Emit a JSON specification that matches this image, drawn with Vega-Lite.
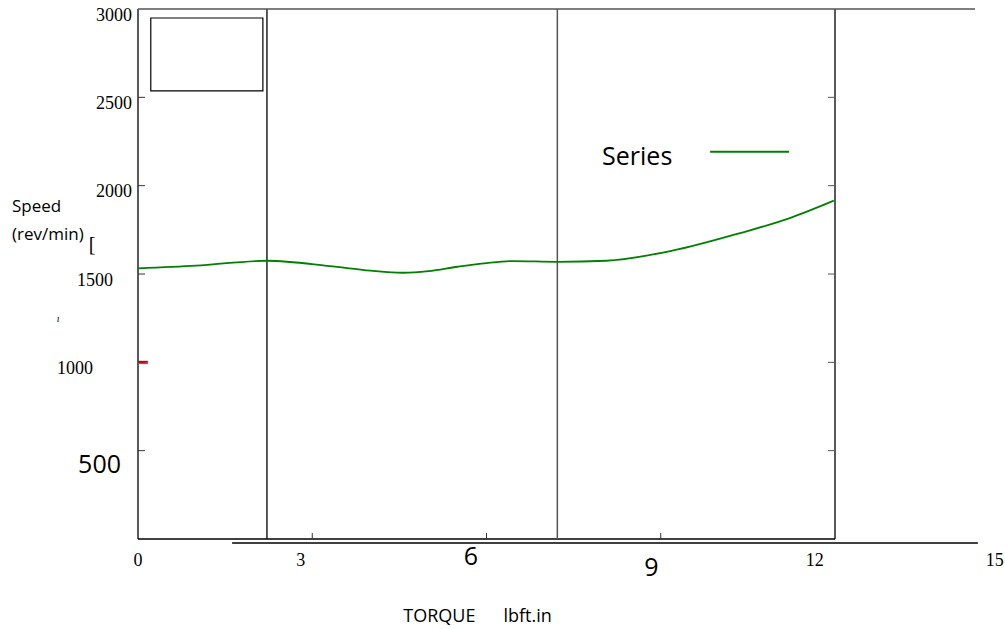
{
  "$schema": "https://vega.github.io/schema/vega-lite/v6.json",
  "width": 697,
  "height": 530,
  "autosize": {"type": "none"},
  "padding": {"left": 138, "top": 9, "right": 170, "bottom": 90},
  "background": "white",
  "config": {"view": {"stroke": null}},
  "datasets": {
    "curve": [
      {"t": 0, "s": 1532}, {"t": 1.0, "s": 1547}, {"t": 2.22, "s": 1575}, {"t": 3.3, "s": 1545},
      {"t": 4.0, "s": 1519}, {"t": 4.56, "s": 1507}, {"t": 5.0, "s": 1516}, {"t": 5.5, "s": 1541},
      {"t": 6.0, "s": 1562}, {"t": 6.45, "s": 1573}, {"t": 7.22, "s": 1569}, {"t": 8.06, "s": 1575},
      {"t": 9.2, "s": 1632}, {"t": 10.35, "s": 1730}, {"t": 11.21, "s": 1815}, {"t": 11.98, "s": 1915}
    ],
    "frameBlack": [
      {"x": 1.62, "x2": 14.46, "y": -22.6, "y2": -22.6},
      {"x": 2.22, "x2": 2.22, "y": 0, "y2": 3000},
      {"x": 12, "x2": 12, "y": 0, "y2": 3000},
      {"x": 0, "x2": 0, "y": 0, "y2": 3000}
    ],
    "frameGray": [
      {"x": 0, "x2": 14.41, "y": 3000, "y2": 3000},
      {"x": 7.22, "x2": 7.22, "y": 0, "y2": 3000}
    ],
    "xDomain": [{"x": 0, "x2": 12, "y": 0}],
    "yTicks": [{"y": 500}, {"y": 1000}, {"y": 1500}, {"y": 2000}, {"y": 2500}],
    "xTicks": [{"x": 3}, {"x": 6}, {"x": 9}],
    "box": [{"x": 0.22, "x2": 2.15, "y": 2536, "y2": 2949}],
    "xLabelsSerif": [
      {"x": 0.0, "y": -152.8, "label": "0"},
      {"x": 2.8, "y": -152.8, "label": "3"},
      {"x": 11.65, "y": -152.8, "label": "12"},
      {"x": 14.75, "y": -152.8, "label": "15"}
    ],
    "xLabelsSans": [
      {"x": 5.73, "y": -147, "label": "6"},
      {"x": 8.84, "y": -209.4, "label": "9"}
    ],
    "yLabelsSerif": [
      {"x": -0.103, "y": 2932, "label": "3000"},
      {"x": -0.103, "y": 2432, "label": "2500"},
      {"x": -0.103, "y": 1936, "label": "2000"},
      {"x": -0.43, "y": 1432, "label": "1500"},
      {"x": -0.775, "y": 934, "label": "1000"}
    ],
    "yLabelsSans": [
      {"x": -0.293, "y": 374, "label": "500"}
    ],
    "titles": [
      {"x": 5.845, "y": -469.8, "label": "TORQUE\u00a0\u00a0\u00a0\u00a0\u00a0\u00a0lbft.in", "anchor": "middle"},
      {"x": -2.169, "y": 1851, "label": "Speed", "anchor": "start"},
      {"x": -2.169, "y": 1692, "label": "(rev/min)", "anchor": "start"}
    ],
    "legendText": [{"x": 7.99, "y": 2117, "label": "Series"}],
    "legendLine": [{"x": 9.85, "x2": 11.21, "y": 2192}],
    "redMark": [{"x": 0, "x2": 0.17, "y": 1003}],
    "blueMark": [{"x": 0, "x2": 0.17, "y": 994}],
    "bracket": [{"x": -0.79, "y": 1633, "label": "["}],
    "dot": [{"x": -1.375, "y": 1228, "label": "ı"}]
  },
  "layer": [
    {
      "data": {"name": "xDomain"},
      "mark": {"type": "rule", "color": "#404040", "strokeWidth": 2.2},
      "encoding": {
        "x": {"field": "x", "type": "quantitative", "scale": {"domain": [0, 12], "nice": false, "zero": false}, "axis": null},
        "x2": {"field": "x2"},
        "y": {"field": "y", "type": "quantitative", "scale": {"domain": [0, 3000], "nice": false}, "axis": null}
      }
    },
    {
      "data": {"name": "frameBlack"},
      "mark": {"type": "rule", "color": "#000000", "strokeWidth": 1.3},
      "encoding": {
        "x": {"field": "x", "type": "quantitative", "scale": {"domain": [0, 12], "nice": false, "zero": false}, "axis": null},
        "x2": {"field": "x2"},
        "y": {"field": "y", "type": "quantitative", "scale": {"domain": [0, 3000], "nice": false}, "axis": null},
        "y2": {"field": "y2"}
      }
    },
    {
      "data": {"name": "frameGray"},
      "mark": {"type": "rule", "color": "#555555", "strokeWidth": 1.5},
      "encoding": {
        "x": {"field": "x", "type": "quantitative", "scale": {"domain": [0, 12], "nice": false, "zero": false}, "axis": null},
        "x2": {"field": "x2"},
        "y": {"field": "y", "type": "quantitative", "scale": {"domain": [0, 3000], "nice": false}, "axis": null},
        "y2": {"field": "y2"}
      }
    },
    {
      "data": {"name": "yTicks"},
      "mark": {"type": "rule", "color": "#555555", "strokeWidth": 1},
      "encoding": {
        "x": {"datum": 11.88, "type": "quantitative", "scale": {"domain": [0, 12], "nice": false, "zero": false}, "axis": null},
        "x2": {"datum": 12},
        "y": {"field": "y", "type": "quantitative", "scale": {"domain": [0, 3000], "nice": false}, "axis": null}
      }
    },
    {
      "data": {"name": "yTicks"},
      "mark": {"type": "rule", "color": "#333333", "strokeWidth": 1},
      "encoding": {
        "x": {"datum": 0, "type": "quantitative", "scale": {"domain": [0, 12], "nice": false, "zero": false}, "axis": null},
        "x2": {"datum": 0.12},
        "y": {"field": "y", "type": "quantitative", "scale": {"domain": [0, 3000], "nice": false}, "axis": null}
      }
    },
    {
      "data": {"name": "xTicks"},
      "mark": {"type": "rule", "color": "#333333", "strokeWidth": 1},
      "encoding": {
        "x": {"field": "x", "type": "quantitative", "scale": {"domain": [0, 12], "nice": false, "zero": false}, "axis": null},
        "y": {"datum": 0, "type": "quantitative", "scale": {"domain": [0, 3000], "nice": false}, "axis": null},
        "y2": {"datum": 34}
      }
    },
    {
      "data": {"name": "box"},
      "mark": {"type": "rect", "fill": "transparent", "stroke": "#000000", "strokeWidth": 1.2},
      "encoding": {
        "x": {"field": "x", "type": "quantitative", "scale": {"domain": [0, 12], "nice": false, "zero": false}, "axis": null},
        "x2": {"field": "x2"},
        "y": {"field": "y", "type": "quantitative", "scale": {"domain": [0, 3000], "nice": false}, "axis": null},
        "y2": {"field": "y2"}
      }
    },
    {
      "data": {"name": "curve"},
      "mark": {"type": "line", "color": "#008000", "strokeWidth": 1.8, "interpolate": "monotone"},
      "encoding": {
        "x": {"field": "t", "type": "quantitative", "scale": {"domain": [0, 12], "nice": false, "zero": false}, "axis": null},
        "y": {"field": "s", "type": "quantitative", "scale": {"domain": [0, 3000], "nice": false}, "axis": null}
      }
    },
    {
      "data": {"name": "legendLine"},
      "mark": {"type": "rule", "color": "#008000", "strokeWidth": 2},
      "encoding": {
        "x": {"field": "x", "type": "quantitative", "scale": {"domain": [0, 12], "nice": false, "zero": false}, "axis": null},
        "x2": {"field": "x2"},
        "y": {"field": "y", "type": "quantitative", "scale": {"domain": [0, 3000], "nice": false}, "axis": null}
      }
    },
    {
      "data": {"name": "blueMark"},
      "mark": {"type": "rule", "color": "#4472c4", "strokeWidth": 1.5},
      "encoding": {
        "x": {"field": "x", "type": "quantitative", "scale": {"domain": [0, 12], "nice": false, "zero": false}, "axis": null},
        "x2": {"field": "x2"},
        "y": {"field": "y", "type": "quantitative", "scale": {"domain": [0, 3000], "nice": false}, "axis": null}
      }
    },
    {
      "data": {"name": "redMark"},
      "mark": {"type": "rule", "color": "#d00000", "strokeWidth": 2},
      "encoding": {
        "x": {"field": "x", "type": "quantitative", "scale": {"domain": [0, 12], "nice": false, "zero": false}, "axis": null},
        "x2": {"field": "x2"},
        "y": {"field": "y", "type": "quantitative", "scale": {"domain": [0, 3000], "nice": false}, "axis": null}
      }
    },
    {
      "data": {"name": "xLabelsSerif"},
      "mark": {"type": "text", "align": "center", "baseline": "alphabetic", "font": "Liberation Serif", "fontSize": 18, "color": "#000000"},
      "encoding": {
        "x": {"field": "x", "type": "quantitative", "scale": {"domain": [0, 12], "nice": false, "zero": false}, "axis": null},
        "y": {"field": "y", "type": "quantitative", "scale": {"domain": [0, 3000], "nice": false}, "axis": null},
        "text": {"field": "label"}
      }
    },
    {
      "data": {"name": "xLabelsSans"},
      "mark": {"type": "text", "align": "center", "baseline": "alphabetic", "font": "Open Sans", "fontSize": 25, "color": "#000000"},
      "encoding": {
        "x": {"field": "x", "type": "quantitative", "scale": {"domain": [0, 12], "nice": false, "zero": false}, "axis": null},
        "y": {"field": "y", "type": "quantitative", "scale": {"domain": [0, 3000], "nice": false}, "axis": null},
        "text": {"field": "label"}
      }
    },
    {
      "data": {"name": "yLabelsSerif"},
      "mark": {"type": "text", "align": "right", "baseline": "alphabetic", "font": "Liberation Serif", "fontSize": 18, "color": "#000000"},
      "encoding": {
        "x": {"field": "x", "type": "quantitative", "scale": {"domain": [0, 12], "nice": false, "zero": false}, "axis": null},
        "y": {"field": "y", "type": "quantitative", "scale": {"domain": [0, 3000], "nice": false}, "axis": null},
        "text": {"field": "label"}
      }
    },
    {
      "data": {"name": "yLabelsSans"},
      "mark": {"type": "text", "align": "right", "baseline": "alphabetic", "font": "Open Sans", "fontSize": 25, "color": "#000000"},
      "encoding": {
        "x": {"field": "x", "type": "quantitative", "scale": {"domain": [0, 12], "nice": false, "zero": false}, "axis": null},
        "y": {"field": "y", "type": "quantitative", "scale": {"domain": [0, 3000], "nice": false}, "axis": null},
        "text": {"field": "label"}
      }
    },
    {
      "data": {"name": "titles"},
      "transform": [{"filter": "datum.anchor == 'middle'"}],
      "mark": {"type": "text", "align": "center", "baseline": "alphabetic", "font": "Open Sans", "fontSize": 18, "color": "#000000"},
      "encoding": {
        "x": {"field": "x", "type": "quantitative", "scale": {"domain": [0, 12], "nice": false, "zero": false}, "axis": null},
        "y": {"field": "y", "type": "quantitative", "scale": {"domain": [0, 3000], "nice": false}, "axis": null},
        "text": {"field": "label"}
      }
    },
    {
      "data": {"name": "titles"},
      "transform": [{"filter": "datum.anchor == 'start'"}],
      "mark": {"type": "text", "align": "left", "baseline": "alphabetic", "font": "Open Sans", "fontSize": 17, "color": "#000000"},
      "encoding": {
        "x": {"field": "x", "type": "quantitative", "scale": {"domain": [0, 12], "nice": false, "zero": false}, "axis": null},
        "y": {"field": "y", "type": "quantitative", "scale": {"domain": [0, 3000], "nice": false}, "axis": null},
        "text": {"field": "label"}
      }
    },
    {
      "data": {"name": "legendText"},
      "mark": {"type": "text", "align": "left", "baseline": "alphabetic", "font": "Open Sans", "fontSize": 25, "color": "#000000"},
      "encoding": {
        "x": {"field": "x", "type": "quantitative", "scale": {"domain": [0, 12], "nice": false, "zero": false}, "axis": null},
        "y": {"field": "y", "type": "quantitative", "scale": {"domain": [0, 3000], "nice": false}, "axis": null},
        "text": {"field": "label"}
      }
    },
    {
      "data": {"name": "bracket"},
      "mark": {"type": "text", "align": "center", "baseline": "alphabetic", "font": "Liberation Serif", "fontSize": 20, "color": "#000000"},
      "encoding": {
        "x": {"field": "x", "type": "quantitative", "scale": {"domain": [0, 12], "nice": false, "zero": false}, "axis": null},
        "y": {"field": "y", "type": "quantitative", "scale": {"domain": [0, 3000], "nice": false}, "axis": null},
        "text": {"field": "label"}
      }
    },
    {
      "data": {"name": "dot"},
      "mark": {"type": "text", "align": "center", "baseline": "alphabetic", "font": "Liberation Serif", "fontSize": 10, "fontStyle": "italic", "color": "#000000"},
      "encoding": {
        "x": {"field": "x", "type": "quantitative", "scale": {"domain": [0, 12], "nice": false, "zero": false}, "axis": null},
        "y": {"field": "y", "type": "quantitative", "scale": {"domain": [0, 3000], "nice": false}, "axis": null},
        "text": {"field": "label"}
      }
    }
  ]
}
